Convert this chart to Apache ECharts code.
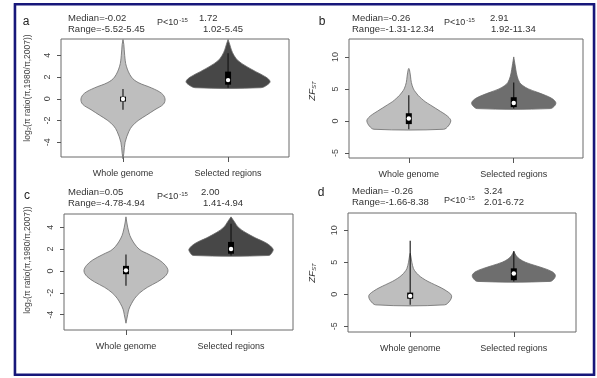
<!DOCTYPE html>
<html><head><meta charset="utf-8">
<script src="https://cdn.jsdelivr.net/npm/echarts@6/dist/echarts.min.js"></script>
<style>html,body{margin:0;padding:0;background:#fff}#c{width:597px;height:378px}</style>
</head><body><div id="c"></div>
<script>
const categories = ['Whole genome', 'Selected regions'];
const panelLetters = ['a', 'b', 'c', 'd'];

// Panel a : log2 pi ratio
const aWholeY = [5.45, 5, 4, 3, 2, 1.5, 1, 0.5, 0, -0.5, -1, -1.5, -2, -2.5, -3, -4, -5, -5.52];
const aWholeW = [0, 0.02, 0.04, 0.08, 0.2, 0.36, 0.68, 0.92, 1, 0.96, 0.76, 0.56, 0.36, 0.22, 0.14, 0.05, 0.02, 0];
const aWholeBox = [-1.0, -0.25, -0.02, 0.2, 0.9];
const aSelY = [1.02, 1.3, 1.6, 2, 2.5, 3, 3.5, 4, 4.5, 5, 5.45];
const aSelW = [0.78, 0.94, 1, 0.9, 0.66, 0.43, 0.24, 0.14, 0.08, 0.04, 0];
const aSelBox = [1.02, 1.3, 1.72, 2.5, 4.2];

// Panel b : ZFst
const bWholeY = [-1.31, -0.8, 0, 0.5, 1, 1.5, 2, 2.5, 3, 3.5, 4, 4.5, 5, 6, 7, 8, 8.2];
const bWholeW = [0.83, 0.94, 1, 0.96, 0.87, 0.75, 0.63, 0.51, 0.39, 0.3, 0.22, 0.16, 0.11, 0.06, 0.04, 0.015, 0];
const bWholeBox = [-1.31, -0.5, 0.37, 1.2, 4.0];
const bSelY = [1.92, 2.4, 2.9, 3.5, 4, 4.5, 5, 5.5, 6, 7, 8, 9, 10];
const bSelW = [0.87, 0.98, 1, 0.91, 0.75, 0.55, 0.35, 0.22, 0.14, 0.08, 0.05, 0.025, 0];
const bSelBox = [1.92, 2.15, 2.8, 3.7, 6.0];

// Panel c : log2 pi ratio
const cWholeY = [4.94, 4, 3, 2, 1.5, 1, 0.5, 0, -0.5, -1, -1.5, -2, -2.5, -3, -3.5, -4, -4.78];
const cWholeW = [0, 0.04, 0.12, 0.31, 0.55, 0.79, 0.94, 1, 0.93, 0.75, 0.51, 0.33, 0.21, 0.13, 0.07, 0.04, 0];
const cWholeBox = [-1.35, -0.3, 0.05, 0.46, 1.5];
const cSelY = [1.41, 1.7, 2, 2.5, 3, 3.5, 4, 4.5, 4.94];
const cSelW = [0.9, 0.98, 1, 0.86, 0.59, 0.35, 0.17, 0.08, 0];
const cSelBox = [1.41, 1.57, 2.0, 2.65, 4.3];

// Panel d : ZFst
const dWholeY = [-1.66, -1, -0.4, 0, 0.5, 1, 1.5, 2, 2.5, 3, 3.5, 4, 5, 6, 6.4];
const dWholeW = [0.83, 0.96, 1, 0.98, 0.88, 0.75, 0.59, 0.43, 0.3, 0.2, 0.13, 0.08, 0.04, 0.015, 0];
const dWholeBox = [-1.66, -0.7, -0.26, 0.26, 8.38];
const dSelY = [2.01, 2.5, 3, 3.5, 4, 4.5, 5, 5.5, 6, 6.72];
const dSelW = [0.88, 0.98, 1, 0.93, 0.75, 0.51, 0.28, 0.14, 0.06, 0];
const dSelBox = [2.01, 2.2, 3.24, 4.05, 6.72];

// Tick labels
const piTicks = [-4, -2, 0, 2, 4];
const zfTicks = [-5, 0, 5, 10];

// Annotation texts
const medianTexts = ['Median=-0.02', 'Median=-0.26', 'Median=0.05', 'Median= -0.26'];
const rangeTexts = ['Range=-5.52-5.45', 'Range=-1.31-12.34', 'Range=-4.78-4.94', 'Range=-1.66-8.38'];
const selMedianTexts = ['1.72', '2.91', '2.00', '3.24'];
const selRangeTexts = ['1.02-5.45', '1.92-11.34', '1.41-4.94', '2.01-6.72'];

// ---------- layout / style ----------
const FONT = 'Liberation Sans, Arial, Helvetica, sans-serif';
const HALF = 0.4;       // max violin half width in x units
const WHOLE_FILL = '#bebebe';
const layouts = [
  { grid: { left: 61, top: 39, width: 228, height: 118 }, xMin: 0.41, xMax: 2.58, yMin: -5.35, yMax: 5.5, ticks: piTicks, selFill: '#474747',
    letter: [26, 22], med: [68, 18.5], range: [68, 29], p: [157, 23], smed: [199, 18.5], srange: [203, 29], ytitle: [28, 88] },
  { grid: { left: 349, top: 39, width: 234, height: 119 }, xMin: 0.43, xMax: 2.66, yMin: -5.8, yMax: 12.8, ticks: zfTicks, selFill: '#6e6e6e',
    letter: [322, 22], med: [352, 18.5], range: [352, 29], p: [444, 23], smed: [490, 18.5], srange: [491, 29], ytitle: [312, 91] },
  { grid: { left: 64, top: 214, width: 229, height: 116 }, xMin: 0.41, xMax: 2.59, yMin: -5.4, yMax: 5.2, ticks: piTicks, selFill: '#474747',
    letter: [27, 196], med: [68, 192], range: [68, 203], p: [157, 197], smed: [201, 192], srange: [203, 203], ytitle: [28, 260] },
  { grid: { left: 348, top: 213, width: 228, height: 119 }, xMin: 0.40, xMax: 2.6, yMin: -5.9, yMax: 12.7, ticks: zfTicks, selFill: '#6e6e6e',
    letter: [321, 193], med: [352, 191], range: [352, 202], p: [444, 201], smed: [484, 191], srange: [484, 202], ytitle: [312, 273] }
];
const violins = [
  [{ y: aWholeY, w: aWholeW, box: aWholeBox }, { y: aSelY, w: aSelW, box: aSelBox }],
  [{ y: bWholeY, w: bWholeW, box: bWholeBox }, { y: bSelY, w: bSelW, box: bSelBox }],
  [{ y: cWholeY, w: cWholeW, box: cWholeBox }, { y: cSelY, w: cSelW, box: cSelBox }],
  [{ y: dWholeY, w: dWholeW, box: dWholeBox }, { y: dSelY, w: dSelW, box: dSelBox }]
];

function makeRender(v, fill) {
  return function (params, api) {
    const cx = api.value(0);
    const left = [], right = [];
    for (let i = 0; i < v.y.length; i++) {
      left.push(api.coord([cx - v.w[i] * HALF, v.y[i]]));
      right.push(api.coord([cx + v.w[i] * HALF, v.y[i]]));
    }
    const pts = left.concat(right.reverse());
    const b = v.box;
    const pLo = api.coord([cx, b[0]]), pQ1 = api.coord([cx, b[1]]), pMed = api.coord([cx, b[2]]),
          pQ3 = api.coord([cx, b[3]]), pHi = api.coord([cx, b[4]]);
    return {
      type: 'group',
      children: [
        { type: 'polygon', shape: { points: pts, smooth: 0.35 }, style: { fill: fill, stroke: '#6a6a6a', lineWidth: 0.8 } },
        { type: 'line', shape: { x1: pLo[0], y1: pLo[1], x2: pHi[0], y2: pHi[1] }, style: { stroke: '#111', lineWidth: 1.1 } },
        { type: 'rect', shape: { x: pQ3[0] - 3, y: pQ3[1], width: 6, height: pQ1[1] - pQ3[1] }, style: { fill: '#000' } },
        { type: 'circle', shape: { cx: pMed[0], cy: pMed[1], r: 2.2 }, style: { fill: '#fff' } }
      ]
    };
  };
}

const grids = [], xAxes = [], yAxes = [], series = [], graphics = [];
layouts.forEach((L, k) => {
  grids.push(Object.assign({ show: true, borderColor: '#6b6b6b', borderWidth: 1, backgroundColor: 'transparent' }, L.grid));
  xAxes.push({
    type: 'value', gridIndex: k, min: L.xMin, max: L.xMax, position: 'bottom',
    axisLine: { show: false, onZero: false }, splitLine: { show: false },
    axisTick: { show: true, customValues: [1, 2], length: 5, lineStyle: { color: '#555' } },
    axisLabel: { customValues: [1, 2], margin: 12, fontSize: 9, fontFamily: FONT, color: '#333',
      formatter: v => categories[Math.round(v) - 1] }
  });
  yAxes.push({
    type: 'value', gridIndex: k, min: L.yMin, max: L.yMax, position: 'left',
    axisLine: { show: false, onZero: false }, splitLine: { show: false },
    axisTick: { show: true, customValues: L.ticks, length: 4, lineStyle: { color: '#555' } },
    axisLabel: { customValues: L.ticks, rotate: 90, margin: 9, fontSize: 9, fontFamily: FONT, color: '#444' }
  });
  violins[k].forEach((v, j) => {
    series.push({
      type: 'custom', xAxisIndex: k, yAxisIndex: k, clip: false, silent: true,
      data: [[j + 1, v.box[2]]], renderItem: makeRender(v, j === 0 ? WHOLE_FILL : L.selFill)
    });
  });
  const t = (pos, text, extra) => graphics.push({ type: 'text', x: pos[0], y: pos[1],
    style: Object.assign({ text: text, fontSize: 9.5, fontFamily: FONT, fill: '#333', verticalAlign: 'middle', align: 'left' }, extra || {}) });
  t(L.letter, panelLetters[k], { fontSize: 12, fill: '#222', align: 'center' });
  t(L.med, medianTexts[k]);
  t(L.range, rangeTexts[k]);
  t(L.smed, selMedianTexts[k]);
  t(L.srange, selRangeTexts[k]);
  graphics.push({ type: 'text', x: L.p[0], y: L.p[1], style: {
    text: '{a|P<10}{s|-15}', verticalAlign: 'middle', align: 'left', fill: '#333',
    rich: { a: { fontSize: 9, fontFamily: FONT, fill: '#333' }, s: { fontSize: 6, fontFamily: FONT, fill: '#333', padding: [0, 0, 6, 1] } } } });
  if (k % 2 === 0) {
    graphics.push({ type: 'text', x: L.ytitle[0], y: L.ytitle[1], rotation: Math.PI / 2, style: {
      text: 'log₂(π ratio(π,1980/π,2007))', fontSize: 8.5, fontFamily: FONT, fill: '#444', align: 'center', verticalAlign: 'middle' } });
  } else {
    graphics.push({ type: 'text', x: L.ytitle[0], y: L.ytitle[1], rotation: Math.PI / 2, style: {
      text: '{z|ZF}{s|ST}', align: 'center', verticalAlign: 'middle',
      rich: { z: { fontSize: 9.5, fontStyle: 'italic', fontFamily: FONT, fill: '#333' }, s: { fontSize: 6, fontStyle: 'italic', fontFamily: FONT, fill: '#333', padding: [5, 0, 0, 0] } } } });
  }
});

// outer frame
graphics.push({ type: 'rect', shape: { x: 14, y: 3.5, width: 581, height: 372 }, style: { fill: 'none', stroke: '#c4c4de', lineWidth: 1 }, z: -1 });
graphics.push({ type: 'rect', shape: { x: 15, y: 4.3, width: 579, height: 370.5 }, style: { fill: 'none', stroke: '#17177a', lineWidth: 2.5 } });

const chart = echarts.init(document.getElementById('c'), null, { renderer: 'canvas' });
chart.setOption({
  animation: false,
  backgroundColor: '#ffffff',
  grid: grids, xAxis: xAxes, yAxis: yAxes, series: series, graphic: graphics
});
</script></body></html>
